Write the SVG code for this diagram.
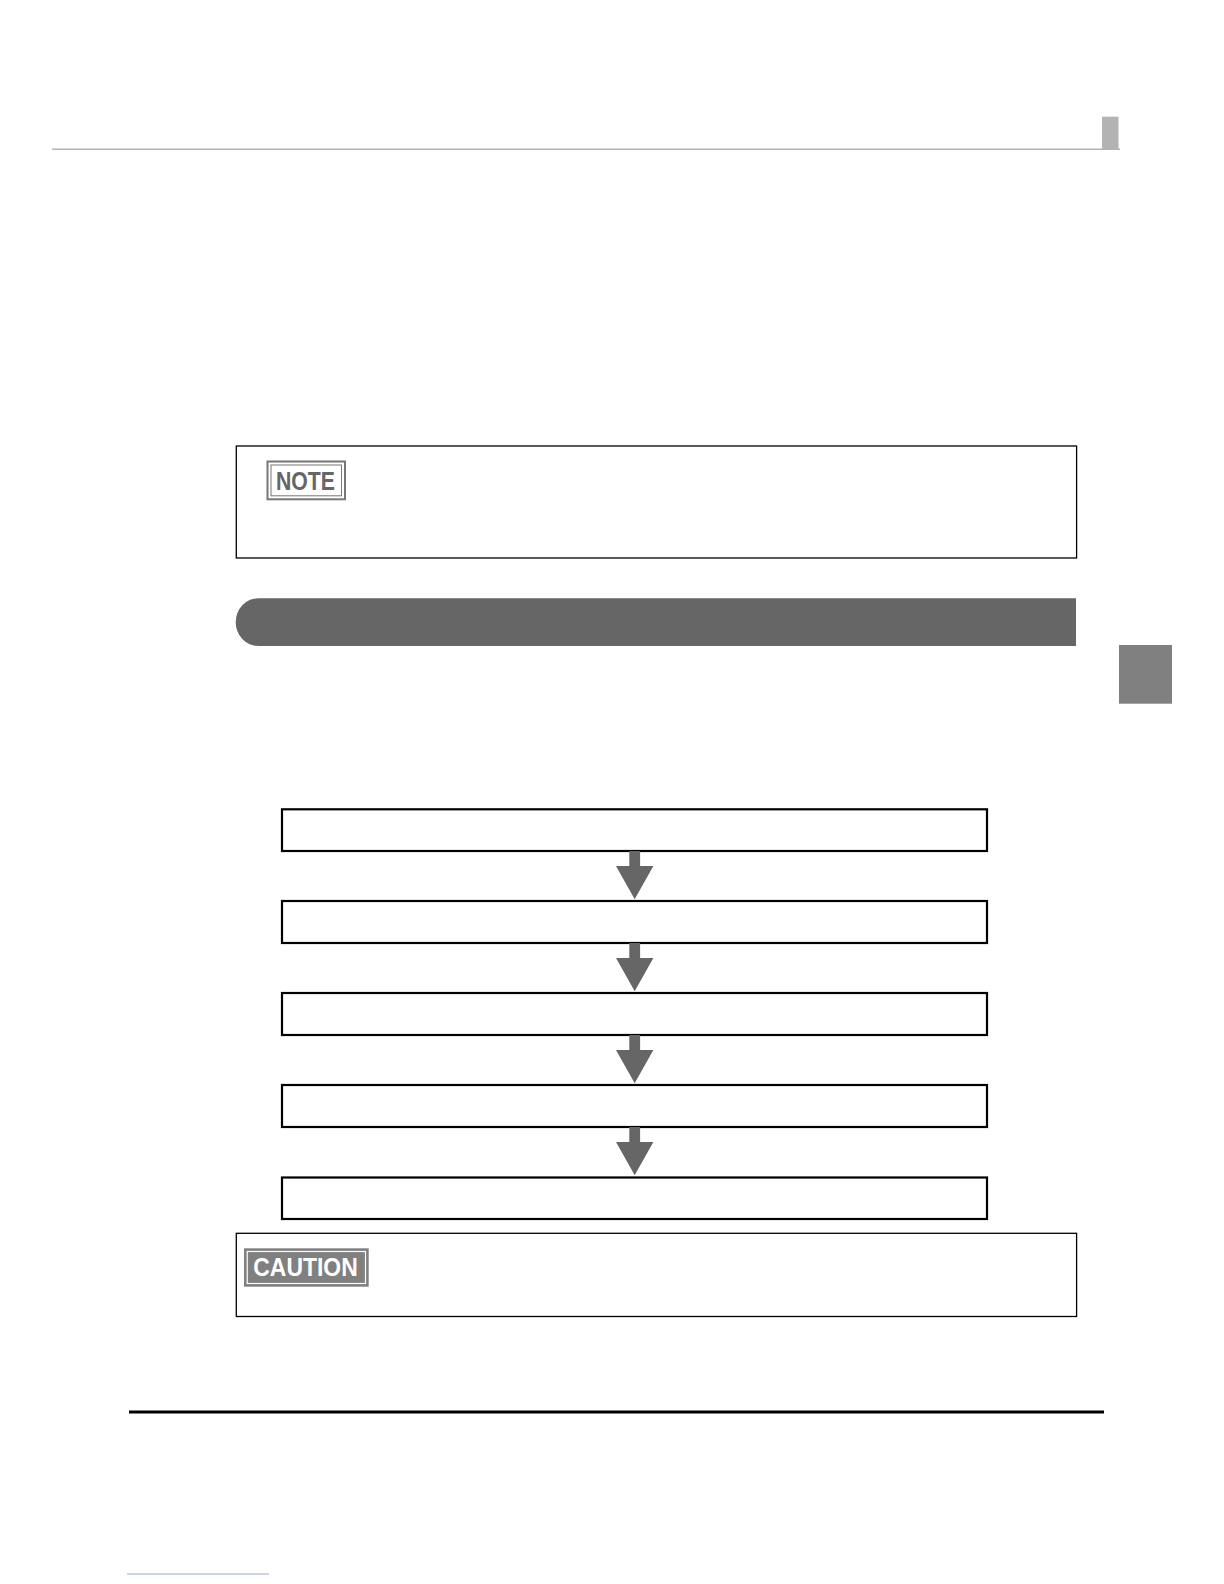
<svg xmlns="http://www.w3.org/2000/svg" width="1224" height="1584" viewBox="0 0 1224 1584">
  <style>
    .step { fill: #ffffff; stroke: #000000; stroke-width: 2.2; }
    .panel { fill: #ffffff; stroke: #000000; stroke-width: 1.3; }
    .arrow { fill: #666666; stroke: none; }
    .lbl { font-family: "Liberation Sans", Arial, sans-serif; font-size: 25px; font-weight: bold; }
  </style>
  <defs>
    <g id="downArrow">
      <rect x="-5.4" y="0" width="10.8" height="16" class="arrow"/>
      <polygon points="-18.7,15 18.7,15 0,48.3" class="arrow"/>
    </g>
  </defs>

  <rect x="0" y="0" width="1224" height="1584" fill="#ffffff"/>

  <!-- header -->
  <g id="header">
    <line x1="52" y1="149.3" x2="1120" y2="149.3" stroke="#b3b3b3" stroke-width="1.6"/>
    <rect x="1102" y="116.7" width="16.5" height="32.6" fill="#b3b3b3"/>
  </g>

  <!-- note panel -->
  <g id="note">
    <rect x="236.3" y="446" width="840.3" height="112" class="panel"/>
    <rect x="267.5" y="461.5" width="77.5" height="37.8" fill="#ffffff" stroke="#777777" stroke-width="2"/>
    <rect x="271" y="465" width="70.5" height="30.8" fill="none" stroke="#777777" stroke-width="1"/>
    <text x="276" y="490" class="lbl" fill="#666666" textLength="59" lengthAdjust="spacingAndGlyphs">NOTE</text>
  </g>

  <!-- section banner -->
  <g id="banner">
    <path d="M1076,598.3 H258.2 A22.5,23.85 0 0 0 258.2,646 H1076 Z" fill="#666666"/>
  </g>

  <!-- side tab -->
  <g id="sideTab">
    <rect x="1119" y="645" width="53" height="58.7" fill="#808080"/>
  </g>

  <!-- flow steps -->
  <g id="step1"><rect x="282" y="809.3" width="705" height="41.7" class="step"/></g>
  <g id="step2"><rect x="282" y="901" width="705" height="42" class="step"/></g>
  <g id="step3"><rect x="282" y="993" width="705" height="42" class="step"/></g>
  <g id="step4"><rect x="282" y="1085" width="705" height="42" class="step"/></g>
  <g id="step5"><rect x="282" y="1177.5" width="705" height="41.5" class="step"/></g>

  <!-- connectors -->
  <g id="connectors">
    <use href="#downArrow" x="634.7" y="851"/>
    <use href="#downArrow" x="634.7" y="943"/>
    <use href="#downArrow" x="634.7" y="1035"/>
    <use href="#downArrow" x="634.7" y="1127"/>
  </g>

  <!-- caution panel -->
  <g id="caution">
    <rect x="236.3" y="1233.3" width="840.3" height="83.2" class="panel"/>
    <rect x="244" y="1248.3" width="124.7" height="38.4" fill="#808080"/>
    <rect x="247.2" y="1251.5" width="118.3" height="32" fill="none" stroke="#ffffff" stroke-width="1.2"/>
    <text x="253.3" y="1276.3" class="lbl" fill="#ffffff" font-size="24.5" textLength="104.4" lengthAdjust="spacingAndGlyphs">CAUTION</text>
  </g>

  <!-- footer -->
  <g id="footer">
    <line x1="129" y1="1412" x2="1104" y2="1412" stroke="#000000" stroke-width="3"/>
    <line x1="127" y1="1574" x2="269" y2="1574" stroke="#9aa6dd" stroke-width="1"/>
  </g>
</svg>
